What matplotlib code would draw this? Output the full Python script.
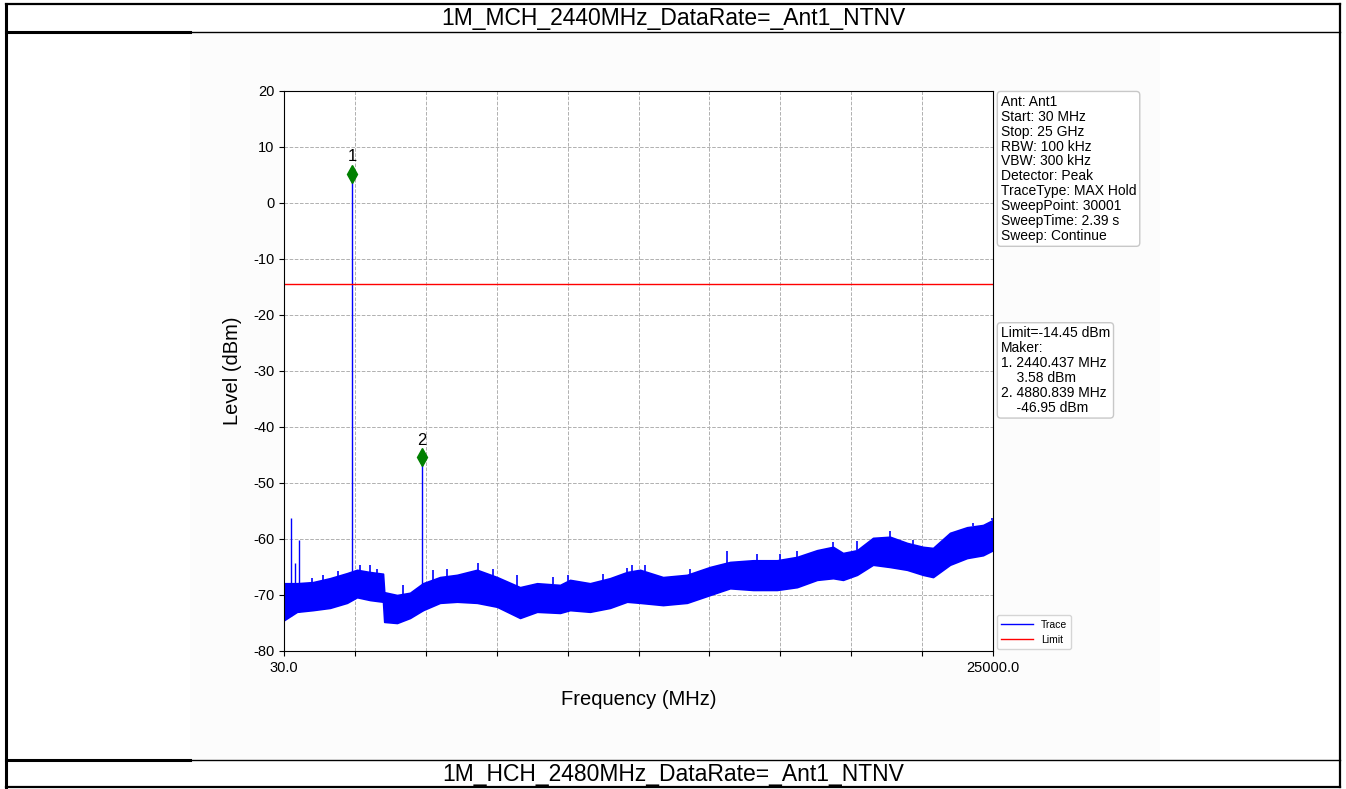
import numpy as np
import matplotlib
matplotlib.use("Agg")
from matplotlib import pyplot as plt
from matplotlib.lines import Line2D

plt.rcParams['font.family'] = ['Liberation Sans', 'DejaVu Sans']
plt.rcParams['axes.unicode_minus'] = False

# --- data ---
title_top = '1M_MCH_2440MHz_DataRate=_Ant1_NTNV'
title_bottom = '1M_HCH_2480MHz_DataRate=_Ant1_NTNV'
f_start, f_stop = 30.0, 25000.0
limit_dbm = -14.45

# noise floor envelope (MHz, upper dBm, lower dBm)
floor_freq = [30, 488, 1051, 1650, 2249, 2601, 3059, 3517, 3560, 4010, 4468,
              4926, 5524, 6123, 6827, 7532, 8342, 8941, 9751, 10103, 10807,
              11512, 12110, 12568, 13378, 14223, 15034, 15738, 16548, 17393,
              18098, 18802, 19366, 19718, 20211, 20774, 21373, 21972, 22535,
              22888, 23486, 24085, 24649, 25000]
floor_upper = [-67.9, -67.9, -67.7, -67.0, -66.1, -65.5, -65.9, -66.2, -69.5,
               -70.0, -69.6, -67.9, -66.8, -66.4, -65.5, -66.8, -68.6, -67.9,
               -68.2, -67.3, -67.9, -67.0, -65.9, -65.5, -66.8, -66.4, -65.0,
               -64.1, -63.8, -63.8, -63.2, -62.0, -61.4, -62.5, -62.0, -59.8,
               -59.6, -60.7, -61.4, -61.6, -58.9, -57.9, -57.5, -56.6]
floor_lower = [-74.5, -73.0, -72.7, -72.3, -71.4, -70.4, -70.9, -71.2, -74.8,
               -75.0, -74.1, -72.7, -71.4, -71.2, -71.4, -72.1, -74.1, -73.0,
               -73.2, -72.7, -73.0, -72.3, -71.2, -71.4, -71.8, -71.4, -70.0,
               -68.8, -69.1, -69.1, -68.6, -67.3, -67.0, -67.3, -66.4, -64.6,
               -65.0, -65.5, -66.4, -66.8, -64.6, -63.4, -62.9, -62.0]

# small noise peaks sticking out of the floor (MHz, dBm)
noise_pk_freq = [1016, 1404, 1932, 2707, 3059, 3305, 4221, 5278, 5771, 6863,
                 7391, 8236, 9504, 10032, 11265, 12110, 12286, 12744, 14329,
                 15632, 16689, 17499, 18098, 19366, 20211, 21373, 22183,
                 24296, 24965]
noise_pk_level = [-66.9, -66.5, -65.8, -64.6, -64.6, -65.3, -68.3, -65.5,
                  -65.3, -64.2, -65.4, -66.5, -66.8, -66.4, -66.2, -65.2,
                  -64.6, -64.7, -65.3, -62.1, -62.6, -62.6, -62.2, -60.5,
                  -60.3, -58.5, -60.1, -57.2, -56.2]

# narrow spurs (MHz, peak dBm)
spur_freq = [280, 420, 560, 2440.437, 4880.839]
spur_peak = [-56.3, -64.3, -60.2, 5.2, -45.4]

# markers
marker_freq = [2440.437, 4880.839]
marker_level = [5.2, -45.4]
marker_text = ['1. 2440.437 MHz\n    3.58 dBm', '2. 4880.839 MHz\n    -46.95 dBm']

settings = ['Ant: Ant1', 'Start: 30 MHz', 'Stop: 25 GHz', 'RBW: 100 kHz',
            'VBW: 300 kHz', 'Detector: Peak', 'TraceType: MAX Hold',
            'SweepPoint: 30001', 'SweepTime: 2.39 s', 'Sweep: Continue']

W, H = 1346, 789
fig = plt.figure(figsize=(W / 100, H / 100), dpi=100)

# table frame around the plot
def hline(y, x0=6, x1=1340, lw=1.6):
    fig.add_artist(Line2D([x0 / W, x1 / W], [1 - y / H, 1 - y / H],
                          color='black', lw=lw))

def vline(x, y0=4, y1=787, lw=1.6):
    fig.add_artist(Line2D([x / W, x / W], [1 - y0 / H, 1 - y1 / H],
                          color='black', lw=lw))

fig.add_artist(plt.Rectangle((190 / W, 1 - 759 / H), 970 / W, 726 / H,
                             facecolor='#fcfcfc', edgecolor='none', zorder=-1))
hline(4)
hline(787)
hline(32, 6, 190, 2.2)
hline(32, 190, 1340, 1.0)
hline(760, 6, 190, 2.2)
hline(760, 190, 1340, 1.0)
vline(6, lw=2.2)
vline(1340)
fig.text(673 / W, 1 - 18 / H, title_top, ha='center', va='center', fontsize=16.5)
fig.text(673 / W, 1 - 774 / H, title_bottom, ha='center', va='center', fontsize=16.5)

ax = fig.add_axes([284 / W, 1 - 651 / H, 709 / W, 560 / H])
ax.set_facecolor('white')

# trace: noise band plus spurs
ax.fill_between(floor_freq, floor_lower, floor_upper, color='blue', lw=1.2,
                edgecolor='blue')
pk_base = np.interp(noise_pk_freq, floor_freq, floor_upper)
ax.vlines(noise_pk_freq, pk_base, noise_pk_level, color='blue', lw=1.2)
sp_base = np.interp(spur_freq, floor_freq, floor_lower)
ax.vlines(spur_freq, sp_base, spur_peak, color='blue', lw=1)
ax.plot([], [], color='blue', lw=1, label='Trace')
ax.axhline(limit_dbm, color='red', lw=1, label='Limit')

ax.plot(marker_freq, marker_level, 'd', color='green', ms=9, zorder=5)
for i, (f, lv) in enumerate(zip(marker_freq, marker_level)):
    ax.annotate(str(i + 1), (f, lv), xytext=(0, 7), textcoords='offset points',
                ha='center', va='bottom', fontsize=12)

ax.set_xlim(f_start, f_stop)
ax.set_ylim(-80, 20)
ticks = np.linspace(f_start, f_stop, 11)
ax.set_xticks(ticks)
ax.set_xticklabels(['30.0'] + [''] * 9 + ['25000.0'])
ax.set_yticks(np.arange(-80, 21, 10))
ax.tick_params(labelsize=10.5)
ax.grid(True, ls='--', color='#b0b0b0', lw=0.7)
ax.set_axisbelow(True)
ax.set_xlabel('Frequency (MHz)', fontsize=14.5, labelpad=11)
ax.set_ylabel('Level (dBm)', fontsize=14.5, labelpad=8)

box = dict(boxstyle='round,pad=0.25', facecolor='white', edgecolor='#c8c8c8')
ax.text(1.011, 0.993, '\n'.join(settings), transform=ax.transAxes, fontsize=10,
        va='top', ha='left', bbox=box, linespacing=1.08)
ax.text(1.011, 0.58, 'Limit=-14.45 dBm\nMaker:\n' + '\n'.join(marker_text),
        transform=ax.transAxes, fontsize=10, va='top', ha='left', bbox=box,
        linespacing=1.08)

ax.legend(loc='lower left', bbox_to_anchor=(1.003, 0.0), fontsize=7.5,
          handlelength=3.0, borderaxespad=0.2)

plt.savefig('out.png', dpi=100)
